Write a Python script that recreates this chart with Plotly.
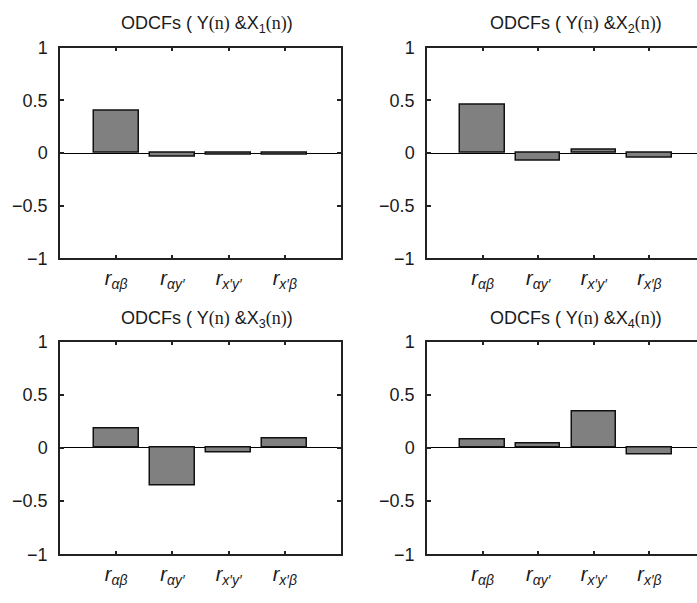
import plotly.graph_objects as go

# Ordinal decomposition cross-correlation factors for each input X_k
positions = [1, 2, 3, 4]
tick_labels = [
    "<i>r</i><sub><i>αβ</i></sub>",
    "<i>r</i><sub><i>αy′</i></sub>",
    "<i>r</i><sub><i>x′y′</i></sub>",
    "<i>r</i><sub><i>x′β</i></sub>",
]
odcf_x1 = [0.40, -0.03, -0.015, -0.015]
odcf_x2 = [0.46, -0.07, 0.03, -0.045]
odcf_x3 = [0.18, -0.35, -0.045, 0.085]
odcf_x4 = [0.08, 0.04, 0.345, -0.06]
serif_n = "<span style='font-family:Liberation Serif'>(n)</span>"
panel_titles = [
    f"ODCFs ( Y{serif_n} &X<sub>{k}</sub>{serif_n})" for k in (1, 2, 3, 4)
]
y_ticks = [-1, -0.5, 0, 0.5, 1]
y_tick_text = ["−1", "−0.5", "0", "0.5", "1"]

W, H = 697, 603
series = [odcf_x1, odcf_x2, odcf_x3, odcf_x4]

# pixel frame of each axes box: (left, right, top, bottom); right panels run past the page edge
boxes = [(60, 341, 39, 257), (427, 697, 39, 257), (60, 341, 343, 563), (427, 697, 343, 563)]
x_ranges = [[0, 5], [0, 270 / 55.6], [0, 5], [0, 270 / 55.6]]
title_pos = [(207, 15), (576, 15), (207, 320), (576, 320)]

fig = go.Figure()
font = dict(family="Liberation Sans, Arial, sans-serif", color="#1a1a1a")
line_col = "#222222"

for i, vals in enumerate(series):
    n = i + 1
    xa = "x" if n == 1 else f"x{n}"
    ya = "y" if n == 1 else f"y{n}"
    fig.add_trace(go.Bar(
        x=positions, y=vals, width=0.8,
        marker=dict(color="#808080", line=dict(color="#111111", width=1.5)),
        xaxis=xa, yaxis=ya, showlegend=False,
    ))
    l, r, t, b = boxes[i]
    right_side = i % 2 == 1
    xkey = "xaxis" if n == 1 else f"xaxis{n}"
    ykey = "yaxis" if n == 1 else f"yaxis{n}"
    fig.update_layout({
        xkey: dict(
            domain=[l / W, r / W], range=x_ranges[i], anchor=ya,
            tickvals=positions, ticktext=tick_labels,
            ticks="inside", ticklen=4, tickcolor=line_col, tickwidth=1.5,
            showline=True, linecolor=line_col, linewidth=1.5, mirror="ticks",
            showgrid=False, zeroline=False, fixedrange=True,
            tickfont=dict(size=20, **font), ticklabelstandoff=1,
        ),
        ykey: dict(
            domain=[1 - b / H, 1 - t / H], range=[-1, 1], anchor=xa,
            tickvals=y_ticks, ticktext=y_tick_text,
            ticks="inside", ticklen=4, tickcolor=line_col, tickwidth=1.5,
            showline=True, linecolor=line_col, linewidth=1.5,
            mirror=False if right_side else "ticks",
            showgrid=False, zeroline=True, zerolinecolor="#000000", zerolinewidth=1.2,
            fixedrange=True, tickfont=dict(size=18, **font), ticklabelstandoff=7,
        ),
    })
    tx, ty = title_pos[i]
    fig.add_annotation(
        x=tx / W, y=1 - ty / H, xref="paper", yref="paper",
        text=panel_titles[i], showarrow=False, xanchor="center", yanchor="middle",
        font=dict(size=18, **font),
    )

fig.update_layout(
    width=W, height=H, margin=dict(l=0, r=0, t=0, b=0),
    paper_bgcolor="white", plot_bgcolor="white", bargap=0,
)

fig.write_html("out.html")
